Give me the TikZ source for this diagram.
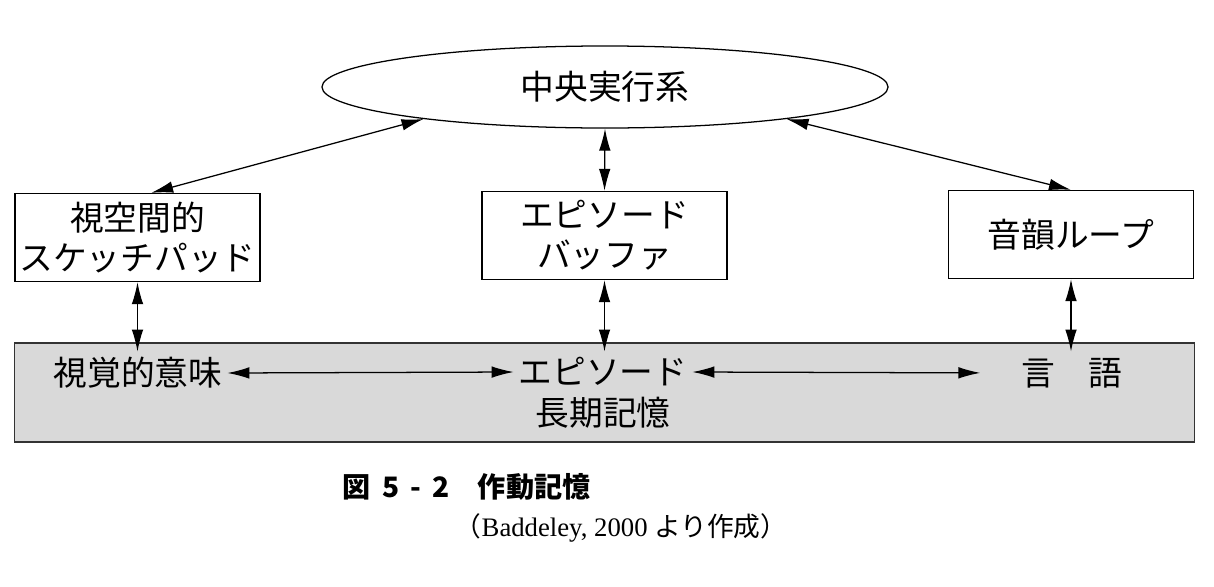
\documentclass[tikz,border=0pt]{standalone}
\usepackage{fontspec}
\setmainfont{Liberation Serif}
\newfontfamily\jp{Noto Sans CJK JP}
\usetikzlibrary{shapes.geometric,arrows.meta}

\begin{document}
\begin{tikzpicture}[x=0.025cm,y=0.025cm,
    font=\jp\fontsize{24}{28.5}\selectfont,
    box/.style={draw,line width=0.9pt,minimum width=6.125cm,minimum height=2.2cm,inner xsep=2pt,align=center},
    dbl/.style={{Latex[length=5.5mm,width=2.9mm]}-{Latex[length=5.5mm,width=2.9mm]},line width=0.9pt}]
    \useasboundingbox (0,0) rectangle (1214,-586);
    % long-term memory band
    \node[draw=black!80,fill=black!15,line width=0.9pt,minimum width=29.475cm,minimum height=2.475cm,inner sep=0] (ltm) at (604.5,-392.5) {};
    \node[draw,ellipse,line width=0.9pt,minimum width=14.15cm,minimum height=2.05cm,inner sep=0] (exec) at (605,-87) {中央実行系};
    \node[box] (vssp) at (137.5,-237.5) {視空間的\\スケッチパッド};
    \node[box] (ebuf) at (604.5,-235.5) {エピソード\\バッファ};
    \node[box] (ploop) at (1071,-234.5) {音韻ループ};
    \node (vis) at (138,-373) {視覚的意味};
    \node (epi) at (603,-372) {エピソード};
    \node (ltmname) at (603,-413) {長期記憶};
    \node (lang) at (1072,-373) {言　語};
    % connectors
    \draw[dbl] (exec.190) -- (vssp.73);
    \draw[dbl] (exec.south) -- (ebuf.north);
    \draw[dbl] (exec.350) -- (ploop.north);
    \foreach \n in {vssp,ebuf,ploop}
        \draw[dbl,shorten >=-2.3mm] (\n.south) -- (\n.south |- ltm.north);
    \draw[dbl] (vis.east) -- (epi.west);
    \draw[dbl,shorten >=0.9cm] (epi.east) -- (lang.west);
    % caption
    \node[anchor=west,font=\jp\bfseries\fontsize{20}{24}\selectfont] (fig) at (338,-487) {図\hspace{.4em}5\hspace{.4em}-\hspace{.4em}2\quad 作動記憶};
    \node[anchor=west,font=\fontsize{19}{23}\selectfont] (src) at (450,-528) {{\jp （}Baddeley, 2000 {\jp より作成）}};
\end{tikzpicture}
\end{document}
